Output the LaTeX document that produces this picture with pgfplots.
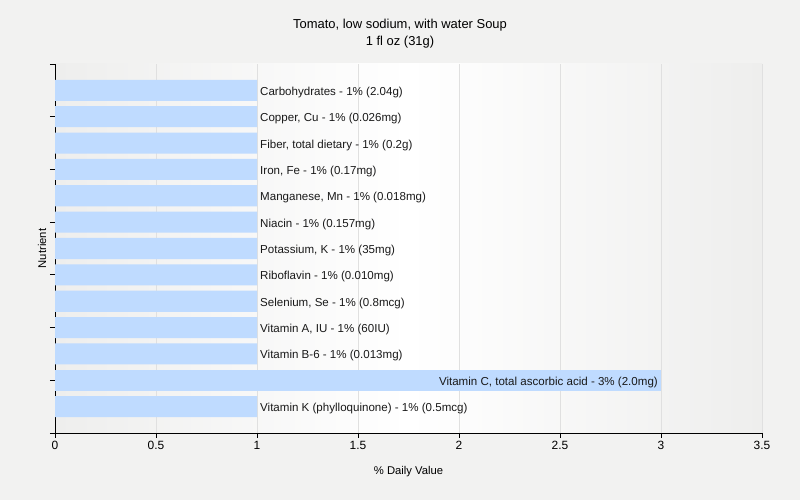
\documentclass[border=0pt]{standalone}
\usepackage{fontspec}
\setmainfont{Liberation Sans}
\usepackage{pgfplots}
\pgfplotsset{compat=1.18}
\definecolor{pagebg}{RGB}{242,242,241}
\definecolor{barblue}{RGB}{191,219,255}
\definecolor{gridgray}{RGB}{224,224,224}
\definecolor{plotedge}{RGB}{238,238,237}
\begin{document}
\begin{tikzpicture}[x=1bp,y=1bp]
\useasboundingbox (0,0) rectangle (800,500);
\fill[pagebg] (0,0) rectangle (800,500);
\begin{axis}[
  at={(55bp,67bp)}, anchor=south west,
  scale only axis, width=707bp, height=369bp,
  xmin=0, xmax=3.5, ymin=0, ymax=14,
  axis x line*=bottom, axis y line*=left,
  axis line style={black, line width=0.8pt},
  axis background/.style={left color=plotedge, right color=plotedge, middle color=white},
  xtick={0,0.5,...,3.5}, ytick={0,2,...,14}, yticklabels={},
  tick align=outside, major tick length=5bp,
  tick style={black, line width=0.8pt},
  xmajorgrids, grid style={gridgray, line width=0.6pt},
  /pgf/number format/assume math mode=true,
  ticklabel style={font=\fontsize{12}{14}\selectfont},
  xlabel={\% Daily Value},
  xlabel style={at={(rel axis cs:0.5,0)}, anchor=center, yshift=-39bp, font=\fontsize{11.3}{13}\selectfont},
  ylabel={Nutrient},
  ylabel style={at={(axis description cs:-0.0184,0.5)}, anchor=center, font=\fontsize{11.3}{13}\selectfont},
  title={Tomato, low sodium, with water Soup\\1 fl oz (31g)},
  title style={at={(rel axis cs:0.5,1)}, anchor=center, align=center, yshift=24.5bp, xshift=-8.5bp, font=\fontsize{13}{17}\selectfont},
  xbar, bar width=0.8, bar shift=0,
  point meta=explicit symbolic,
  nodes near coords,
  every node near coord/.append style={font=\fontsize{11.6}{14}\selectfont, text=black!90, inner sep=3bp, yshift=-2bp},
]
\addplot[fill=barblue, draw=none,
  every node near coord/.append style={anchor=west}]
  coordinates {
  (1,13) [Carbohydrates - 1\% (2.04g)]
  (1,12) [Copper, Cu - 1\% (0.026mg)]
  (1,11) [Fiber, total dietary - 1\% (0.2g)]
  (1,10) [Iron, Fe - 1\% (0.17mg)]
  (1,9) [Manganese, Mn - 1\% (0.018mg)]
  (1,8) [Niacin - 1\% (0.157mg)]
  (1,7) [Potassium, K - 1\% (35mg)]
  (1,6) [Riboflavin - 1\% (0.010mg)]
  (1,5) [Selenium, Se - 1\% (0.8mcg)]
  (1,4) [Vitamin A, IU - 1\% (60IU)]
  (1,3) [Vitamin B-6 - 1\% (0.013mg)]
  (1,1) [Vitamin K (phylloquinone) - 1\% (0.5mcg)]
  };
\addplot[fill=barblue, draw=none,
  every node near coord/.append style={anchor=east}]
  coordinates {
  (3,2) [Vitamin C, total ascorbic acid - 3\% (2.0mg)]
  };
\end{axis}
\end{tikzpicture}
\end{document}
